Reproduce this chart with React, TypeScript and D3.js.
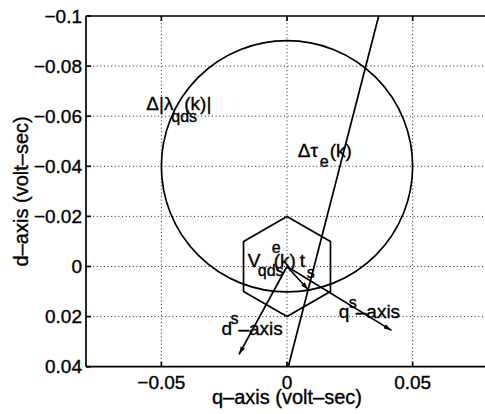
import * as d3 from "d3";

// axis ranges (volt-sec)
const qDomain = [-0.08, 0.08];
const dDomain = [-0.1, 0.04];
const qTicks = [-0.05, 0, 0.05];
const qTickLabels = ["−0.05", "0", "0.05"];
const dTicks = [-0.1, -0.08, -0.06, -0.04, -0.02, 0, 0.02, 0.04];
const dTickLabels = ["−0.1", "−0.08", "−0.06", "−0.04", "−0.02", "0", "0.02", "0.04"];

// flux error circle
const circleCenter = [0, -0.04];
const circleRadius = 0.05;

// voltage hexagon vertices
const hexagon = [
  [0, -0.02],
  [0.0173, -0.01],
  [0.0173, 0.01],
  [0, 0.02],
  [-0.0173, 0.01],
  [-0.0173, -0.01],
];

// torque error line
const torqueLine = [
  [0.0365, -0.1],
  [0.0005, 0.04],
];

// arrows from origin
const voltageArrow = [
  [0, 0],
  [0.0085, 0.0093],
];
const qsAxisArrow = [
  [0, 0],
  [0.0416, 0.0255],
];
const dsAxisArrow = [
  [0, 0],
  [-0.0191, 0.0351],
];

// label anchors (baseline start, data coords)
const fluxLabelAt = [-0.056, -0.0625];
const torqueLabelAt = [0.0043, -0.0437];
const voltLabelAt = [-0.0156, 0];
const qsLabelAt = [0.0206, 0.0205];
const dsLabelAt = [-0.0261, 0.0273];

const W = 485;
const H = 414;
const FONT = "'Liberation Sans', Arial, Helvetica, sans-serif";

export default function App() {
  const x = d3.scaleLinear().domain(qDomain).range([86, 488]);
  const y = d3.scaleLinear().domain(dDomain).range([16, 366.7]);
  const line = d3
    .line<number[]>()
    .x((p) => x(p[0]))
    .y((p) => y(p[1]));

  const left = x(qDomain[0]);
  const right = x(qDomain[1]);
  const top = y(dDomain[0]);
  const bottom = y(dDomain[1]);

  const fs = 19;
  const sub = 16;

  const anchor = (p: number[]) => [x(p[0]), y(p[1])];
  const [fx, fy] = anchor(fluxLabelAt);
  const [tx, ty] = anchor(torqueLabelAt);
  const [vx, vy] = anchor(voltLabelAt);
  const [qx, qy] = anchor(qsLabelAt);
  const [dx, dy] = anchor(dsLabelAt);

  return (
    <svg
      width={W}
      height={H}
      style={{ position: "absolute", left: 0, top: 0, background: "#fff" }}
      fontFamily={FONT}
    >
      <defs>
        <marker
          id="head"
          viewBox="0 0 10 6"
          refX="10"
          refY="3"
          markerWidth="8"
          markerHeight="5"
          markerUnits="userSpaceOnUse"
          orient="auto"
        >
          <path d="M0,0 L10,3 L0,6 z" fill="#000" />
        </marker>
      </defs>

      {/* grid */}
      <g stroke="#222" strokeWidth={1} strokeDasharray="1,2.6">
        {qTicks.map((t) => (
          <line key={"gx" + t} x1={x(t)} x2={x(t)} y1={top} y2={bottom} />
        ))}
        {dTicks.slice(1, -1).map((t) => (
          <line key={"gy" + t} x1={left} x2={right} y1={y(t)} y2={y(t)} />
        ))}
      </g>

      {/* axes box */}
      <g stroke="#000" strokeWidth={1.7} fill="none">
        <line x1={left} x2={right} y1={top} y2={top} />
        <line x1={left} x2={right} y1={bottom} y2={bottom} />
        <line x1={left} x2={left} y1={top} y2={bottom} />
        <line x1={right} x2={right} y1={top} y2={bottom} />
        {qTicks.map((t) => (
          <g key={"tx" + t}>
            <line x1={x(t)} x2={x(t)} y1={bottom} y2={bottom - 5} />
            <line x1={x(t)} x2={x(t)} y1={top} y2={top + 5} />
          </g>
        ))}
        {dTicks.map((t) => (
          <line key={"ty" + t} x1={left} x2={left + 5} y1={y(t)} y2={y(t)} />
        ))}
      </g>

      {/* tick labels */}
      <g fontSize={fs} fill="#000" stroke="#000" strokeWidth={0.35}>
        {qTicks.map((t, i) => (
          <text key={"lx" + t} x={x(t)} y={389} textAnchor="middle">
            {qTickLabels[i]}
          </text>
        ))}
        {dTicks.map((t, i) => (
          <text key={"ly" + t} x={left - 4} y={y(t)} dy="0.35em" textAnchor="end">
            {dTickLabels[i]}
          </text>
        ))}
        <text x={x(0)} y={404} textAnchor="middle" fontSize={20}>
          q–axis (volt–sec)
        </text>
        <text
          transform={`translate(28,${(top + bottom) / 2}) rotate(-90)`}
          textAnchor="middle"
          fontSize={20}
        >
          d–axis (volt–sec)
        </text>
      </g>

      {/* shapes */}
      <g stroke="#000" strokeWidth={1.7} fill="none">
        <circle
          cx={x(circleCenter[0])}
          cy={y(circleCenter[1])}
          r={x(circleRadius) - x(0)}
        />
        <path d={line(hexagon) + "Z"} />
        <path d={line(torqueLine) ?? ""} />
        <path d={line(voltageArrow) ?? ""} markerEnd="url(#head)" />
        <path d={line(qsAxisArrow) ?? ""} markerEnd="url(#head)" />
        <path d={line(dsAxisArrow) ?? ""} markerEnd="url(#head)" />
      </g>

      {/* annotations */}
      <g fill="#000" fontSize={fs} stroke="#000" strokeWidth={0.35}>
        <text x={fx} y={fy}>Δ|λ</text>
        <text x={fx + 25} y={fy + 12} fontSize={sub}>qds</text>
        <text x={fx + 38} y={fy}>(k)|</text>

        <text x={tx} y={ty}>Δτ</text>
        <text x={tx + 22} y={ty + 10} fontSize={sub}>e</text>
        <text x={tx + 32} y={ty}>(k)</text>

        <text x={vx} y={vy}>V</text>
        <text x={vx + 10} y={vy + 9} fontSize={sub}>qds</text>
        <text x={vx + 24} y={vy - 14} fontSize={sub}>e</text>
        <text x={vx + 26} y={vy}>(k)</text>
        <text x={vx + 52} y={vy}>t</text>
        <text x={vx + 59} y={vy + 11} fontSize={sub}>s</text>

        <text x={qx} y={qy}>q</text>
        <text x={qx + 10} y={qy - 10} fontSize={sub}>s</text>
        <text x={qx + 17} y={qy}>–axis</text>

        <text x={dx} y={dy}>d</text>
        <text x={dx + 9} y={dy - 11} fontSize={sub}>s</text>
        <text x={dx + 17} y={dy}>–axis</text>
      </g>
    </svg>
  );
}
